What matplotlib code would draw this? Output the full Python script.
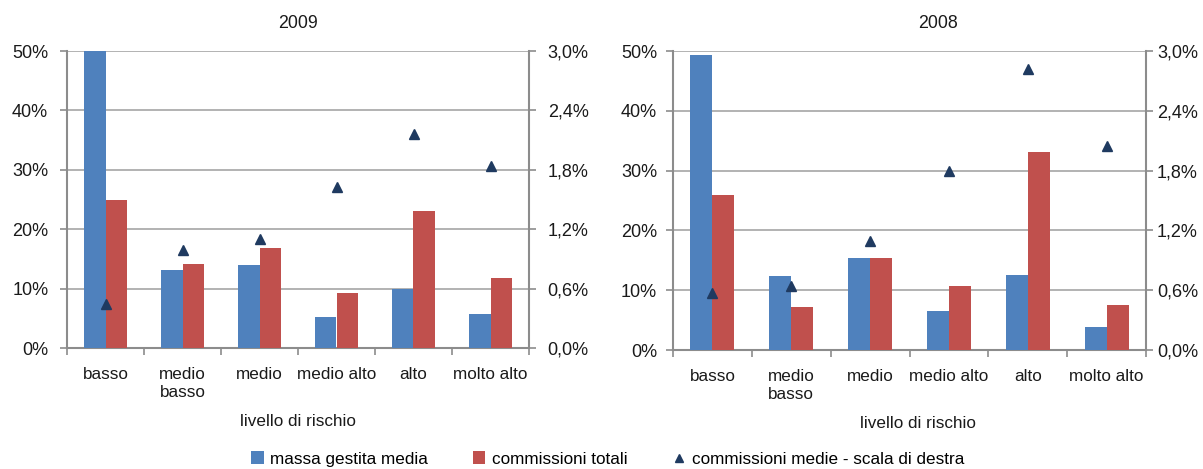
import matplotlib
matplotlib.use("Agg")
import matplotlib.pyplot as plt
import numpy as np
from matplotlib.ticker import FuncFormatter, FixedLocator

categories = ["basso", "medio\nbasso", "medio", "medio alto", "alto", "molto alto"]

massa_2009 = [50.0, 13.1, 13.9, 5.2, 9.9, 5.8]
comm_tot_2009 = [24.9, 14.1, 16.9, 9.2, 23.0, 11.8]
comm_medie_2009 = [0.44, 0.99, 1.10, 1.63, 2.16, 1.84]

massa_2008 = [49.3, 12.3, 15.4, 6.6, 12.6, 3.8]
comm_tot_2008 = [25.9, 7.2, 15.4, 10.7, 33.1, 7.5]
comm_medie_2008 = [0.57, 0.64, 1.09, 1.80, 2.82, 2.05]

left_ticks = [0, 10, 20, 30, 40, 50]
right_ticks = [0.0, 0.6, 1.2, 1.8, 2.4, 3.0]

BLUE = "#4F81BD"
RED = "#C0504D"
NAVY = "#1F3A60"
GRID = "#A6A6A6"
SPINE = "#8C8C8C"
TXT = "#1a1a1a"

plt.rcParams["font.family"] = ["Liberation Sans", "DejaVu Sans"]

fig = plt.figure(figsize=(12.03, 4.69), dpi=100)

def panel(rect, title, title_x, xlabel_x, massa, comm, medie, lpad, rpad):
    ax = fig.add_axes(rect)
    x = np.arange(len(categories))
    w = 0.28
    ax.bar(x - w / 2, massa, width=w, color=BLUE, zorder=3, label="massa gestita media")
    ax.bar(x + w / 2, comm, width=w, color=RED, zorder=3, label="commissioni totali")
    ax.set_xlim(-0.5, len(categories) - 0.5)
    ax.set_ylim(0, 50)
    ax.set_yticks(left_ticks)
    ax.yaxis.set_major_formatter(FuncFormatter(lambda v, p: f"{int(round(v))}%"))
    ax.grid(axis="y", color=GRID, linewidth=1.2, zorder=0)
    ax.set_xticks(x)
    ax.set_xticklabels(categories, fontsize=12.3, color=TXT, linespacing=1.2)
    ax.tick_params(axis="x", which="major", length=0, pad=14)
    ax.xaxis.set_minor_locator(FixedLocator(np.arange(-0.5, len(categories), 1.0)))
    ax.tick_params(axis="x", which="minor", length=5, color=SPINE, width=1.2, direction="out")
    ax.tick_params(axis="y", length=5, color=SPINE, width=1.2, labelsize=13,
                   labelcolor=TXT, pad=lpad)
    for s in ["left", "bottom", "right"]:
        ax.spines[s].set_color(SPINE)
        ax.spines[s].set_linewidth(1.5)
    ax.spines["top"].set_visible(False)
    h = rect[3] * 469
    ax.text(xlabel_x, -73 / h, "livello di rischio", transform=ax.transAxes,
            ha="center", va="center", fontsize=12.3, color=TXT)
    ax.text(title_x, 1 + 28 / h, title, transform=ax.transAxes, ha="center", va="center",
            fontsize=12.8, color=TXT)

    ax2 = ax.twinx()
    ax2.set_ylim(0, 3.0)
    ax2.set_yticks(right_ticks)
    ax2.yaxis.set_major_formatter(FuncFormatter(lambda v, p: f"{v:.1f}%".replace(".", ",")))
    ax2.plot(x, medie, linestyle="none", marker="^", markersize=7, color=NAVY, zorder=5,
             label="commissioni medie - scala di destra")
    ax2.tick_params(axis="y", length=5, color=SPINE, width=1.2, labelsize=13,
                    labelcolor=TXT, pad=rpad)
    for s in ["left", "bottom", "right", "top"]:
        ax2.spines[s].set_visible(False)
    return ax, ax2

ax_a, ax_a2 = panel([67 / 1203, 1 - 348 / 469, 462 / 1203, 297 / 469], "2009", 0.5, 0.5,
                    massa_2009, comm_tot_2009, comm_medie_2009, 8.5, 8.5)
ax_b, ax_b2 = panel([673 / 1203, 1 - 350 / 469, 473 / 1203, 299 / 469], "2008", 0.56, 0.517,
                    massa_2008, comm_tot_2008, comm_medie_2008, 6.5, 3.0)

h1, l1 = ax_a.get_legend_handles_labels()
h2, l2 = ax_a2.get_legend_handles_labels()
fig.legend(h1 + h2, l1 + l2, loc="center", bbox_to_anchor=(0.505, 1 - 459 / 469), ncol=3,
           frameon=False, fontsize=12.3, handlelength=0.75, handleheight=0.75,
           handletextpad=0.4, columnspacing=2.6, markerscale=0.8)

fig.savefig("out.png", dpi=100)
